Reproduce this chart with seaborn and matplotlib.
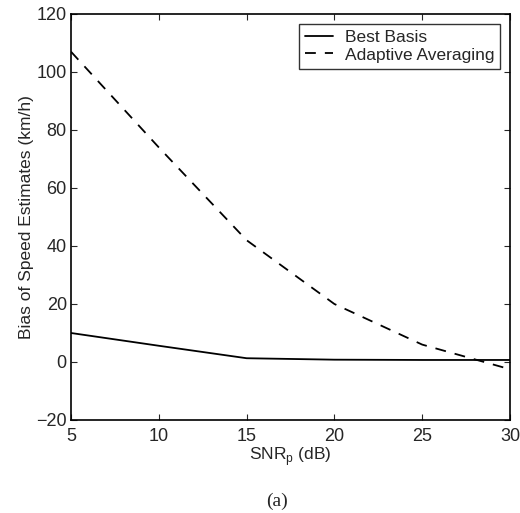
import matplotlib
matplotlib.use("Agg")
import matplotlib.pyplot as plt
import seaborn as sns

snr = [5, 10, 15, 20, 25, 30]
best_basis = [10, 5.6, 1.3, 0.8, 0.7, 0.7]
adaptive_avg = [107, 74, 42, 20, 6, -2.5]

xticks = [5, 10, 15, 20, 25, 30]
yticks = [-20, 0, 20, 40, 60, 80, 100, 120]
ytick_labels = ['\u221220', '0', '20', '40', '60', '80', '100', '120']

sns.set_style("ticks")
plt.rcParams['font.family'] = ['Liberation Sans', 'DejaVu Sans']

fig = plt.figure(figsize=(5.2, 5.13), dpi=100)
ax = fig.add_axes([71/520, 1 - 420/513, (510 - 71)/520, (420 - 14)/513])

sns.lineplot(x=snr, y=best_basis, ax=ax, color='black', linewidth=1.3, label='Best Basis')
sns.lineplot(x=snr, y=adaptive_avg, ax=ax, color='black', linewidth=1.3,
             linestyle=(0, (6, 5)), label='Adaptive Averaging')

ax.set_xlim(5, 30)
ax.set_ylim(-20, 120)
ax.set_xticks(xticks)
ax.set_yticks(yticks)
ax.set_yticklabels(ytick_labels)
ax.tick_params(direction='in', top=True, right=True, labelsize=13, length=4, width=0.8)
ax.tick_params(axis='x', pad=5.5)
ax.tick_params(axis='y', pad=3)
for s in ax.spines.values():
    s.set_linewidth(1.2)
    s.set_color('black')

ax.set_xlabel(r'SNR$_\mathregular{p}$ (dB)', fontsize=12.5, labelpad=0)
ax.set_ylabel('Bias of Speed Estimates (km/h)', fontsize=12.5, labelpad=1.5)

leg = ax.legend(loc='upper right', fontsize=12.5, frameon=True, fancybox=False,
                handlelength=1.6, borderpad=0.35, labelspacing=0.15,
                handletextpad=0.7, borderaxespad=0.55)
leg.get_frame().set_edgecolor('black')
leg.get_frame().set_linewidth(1.0)

fig.text(277/520, 1 - 501/513, '(a)', ha='center', va='center', fontsize=14,
         family=['Liberation Serif', 'DejaVu Serif'])

fig.savefig('out.png', dpi=100)
